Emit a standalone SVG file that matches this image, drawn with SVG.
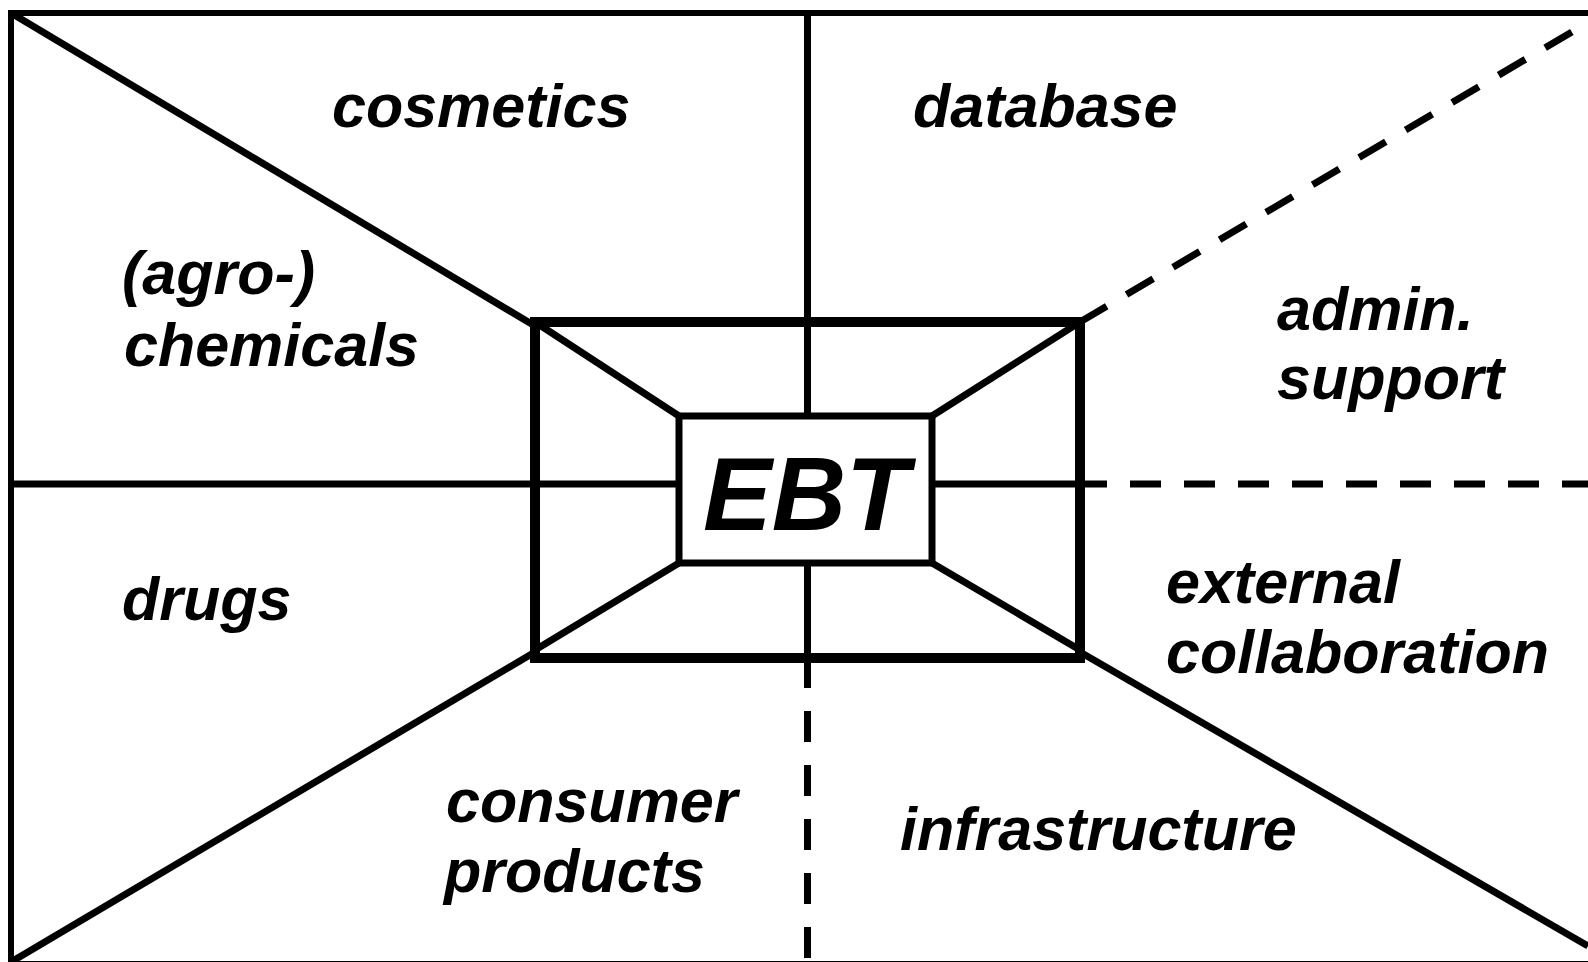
<svg xmlns="http://www.w3.org/2000/svg" width="1588" height="962" viewBox="0 0 1588 962">
  <style>
    .thin { fill: none; stroke: #000; stroke-width: 7; stroke-linecap: butt; }
    .dash { fill: none; stroke: #000; stroke-width: 7; stroke-dasharray: 31 23; }
    .frame { fill: none; stroke: #000; stroke-width: 6; }
    .box { fill: #fff; stroke: #000; stroke-width: 10; }
    .core { fill: #fff; stroke: #000; stroke-width: 7; }
    .lbl { font-family: "Liberation Sans", Arial, Helvetica, sans-serif; font-weight: bold; font-style: italic; font-size: 61px; fill: #000; }
    .big { font-size: 103px; }
  </style>
  <rect width="1588" height="962" fill="#fff"/>

  <!-- outer frame -->
  <rect id="frame" class="frame" x="11" y="13" width="1600" height="951"/>

  <!-- connectors: axes and diagonals -->
  <g id="connectors">
    <!-- outer region (behind the central box) -->
    <line class="thin" x1="11" y1="13" x2="535" y2="326"/>
    <line class="thin" x1="11" y1="962" x2="535" y2="652"/>
    <line class="thin" x1="1080" y1="652" x2="1588" y2="946"/>
    <line class="dash" x1="1080" y1="322" x2="1604" y2="13"/>
    <line class="thin" x1="11" y1="484" x2="535" y2="484"/>
    <line class="dash" x1="1076" y1="484" x2="1588" y2="484"/>
    <line class="thin" x1="807.5" y1="13" x2="807.5" y2="322"/>
    <line class="dash" x1="807.5" y1="657" x2="807.5" y2="962"/>
  </g>

  <!-- outer box with inner perspective lines -->
  <g id="frame-box">
    <rect class="box" x="535" y="322" width="545" height="336"/>
    <line class="thin" x1="535" y1="322" x2="679" y2="416"/>
    <line class="thin" x1="1080" y1="322" x2="932" y2="416"/>
    <line class="thin" x1="535" y1="650" x2="679" y2="563"/>
    <line class="thin" x1="1080" y1="650" x2="932" y2="563"/>
    <line class="thin" x1="535" y1="484" x2="679" y2="484"/>
    <line class="thin" x1="932" y1="484" x2="1080" y2="484"/>
    <line class="thin" x1="807.5" y1="322" x2="807.5" y2="416"/>
    <line class="thin" x1="807.5" y1="563" x2="807.5" y2="658"/>
  </g>

  <!-- central node -->
  <g id="node-ebt">
    <rect class="core" x="679" y="416" width="253" height="147"/>
    <text class="lbl big" x="703" y="530">EBT</text>
  </g>

  <g id="node-cosmetics"><text class="lbl" x="332" y="127">cosmetics</text></g>
  <g id="node-database"><text class="lbl" x="913" y="127">database</text></g>
  <g id="node-agrochemicals">
    <text class="lbl" x="122" y="294">(agro-)</text>
    <text class="lbl" x="124" y="366">chemicals</text>
  </g>
  <g id="node-admin">
    <text class="lbl" x="1277" y="330">admin.</text>
    <text class="lbl" x="1277" y="399">support</text>
  </g>
  <g id="node-drugs"><text class="lbl" x="122" y="620">drugs</text></g>
  <g id="node-external">
    <text class="lbl" x="1166" y="603">external</text>
    <text class="lbl" x="1166" y="673">collaboration</text>
  </g>
  <g id="node-consumer">
    <text class="lbl" x="446" y="822">consumer</text>
    <text class="lbl" x="444" y="892">products</text>
  </g>
  <g id="node-infrastructure"><text class="lbl" x="900" y="850">infrastructure</text></g>
</svg>
